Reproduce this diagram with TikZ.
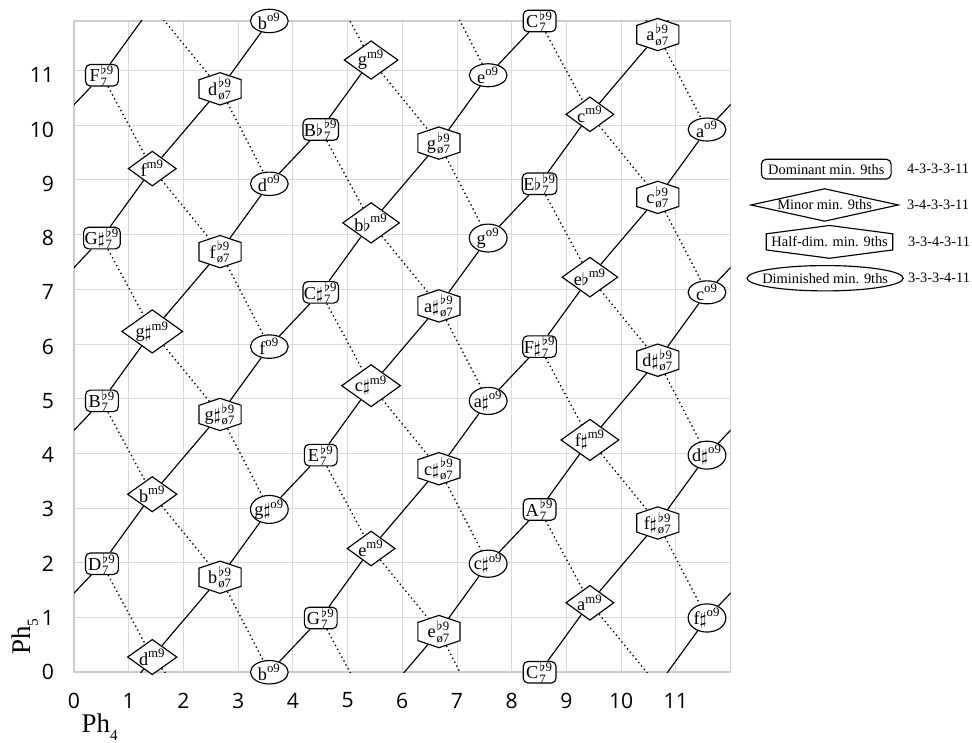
\documentclass[tikz,border=0pt]{standalone}
\usepackage{amsmath}
\usepackage{fontspec}
\setmainfont{Liberation Serif}
\newfontfamily\ticksans{Open Sans}
\usetikzlibrary{shapes.geometric,shapes.symbols,backgrounds}
\definecolor{gridgray}{RGB}{218,218,218}
\definecolor{framegray}{RGB}{205,205,205}

\newcommand{\shp}{$\sharp$}
\newcommand{\flt}{$\flat$}
\newcommand{\domch}[1]{$\text{#1}\mkern1mu^{\flat\text{9}}_{\text{7}}$}
\newcommand{\minch}[1]{$\text{#1}^{\text{m9}}$}
\newcommand{\hdch}[1]{$\text{#1}\mkern1mu^{\flat\text{9}}_{\text{ø7}}$}
\newcommand{\dimch}[1]{$\text{#1}^{\text{o9}}$}
\newcommand{\phlbl}[1]{Ph\raisebox{-4pt}{\fontsize{8}{8}\selectfont #1}}

\tikzset{
  chordbase/.style={draw, fill=white, line width=0.6pt, font=\fontsize{9.5}{10}\selectfont},
  domnode/.style={chordbase, rounded corners=2.5pt, minimum width=6mm, minimum height=3.8mm, inner xsep=0.5pt, inner ysep=0pt},
  minnode/.style={chordbase, diamond, aspect=1.4, minimum width=8.8mm, minimum height=6.4mm, inner sep=0pt},
  hdimnode/.style={chordbase, signal, signal to=north and south, signal pointer angle=143,
                   minimum width=7.7mm, inner xsep=0pt, inner ysep=-1pt},
  dimnode/.style={chordbase, ellipse, minimum width=6.9mm, minimum height=4.2mm, inner xsep=-1pt, inner ysep=0pt},
  legfont/.style={font=\fontsize{7.5}{9}\selectfont},
  legdom/.style={legfont, draw, line width=0.6pt, rounded corners=2.5pt, inner xsep=3.5pt, inner ysep=2.5pt},
  legmin/.style={legfont, draw, line width=0.6pt, diamond, aspect=4.5, inner sep=-1.5pt,
                 minimum width=2.7cm, minimum height=6mm},
  leghd/.style={legfont, draw, line width=0.6pt, signal, signal to=north and south, signal pointer angle=165,
                inner xsep=2.7pt, inner ysep=1.5pt},
  legdim/.style={legfont, draw, line width=0.6pt, ellipse, inner xsep=-4pt, inner ysep=2pt},
  legcode/.style={legfont, anchor=west, inner sep=0pt},
  solidlink/.style={line width=0.6pt},
  dotlink/.style={line width=0.7pt, dash pattern=on 0.7pt off 1.6pt},
  gridline/.style={gridgray, line width=0.5pt},
  gridframe/.style={framegray, line width=1pt},
  ticklbl/.style={font=\ticksans\fontsize{11}{13}\selectfont, inner sep=0pt},
  axislbl/.style={font=\fontsize{14}{16}\selectfont, inner sep=0pt}
}

\begin{document}
\begin{tikzpicture}[x=1cm, y=0.992cm]
  \useasboundingbox (-1.353,-1.290) rectangle (16.414,12.387);

  % Dominant min. 9ths
  \node[domnode] (F)   at ( 0.51,11.00) {\domch{F}};
  \node[domnode] (Gs)  at ( 0.51, 8.00) {\domch{G\shp}};
  \node[domnode] (B)   at ( 0.51, 5.00) {\domch{B}};
  \node[domnode] (D)   at ( 0.51, 2.00) {\domch{D}};
  \node[domnode] (Bb)  at ( 4.51,10.00) {\domch{B\flt}};
  \node[domnode] (Cs)  at ( 4.51, 7.00) {\domch{C\shp}};
  \node[domnode] (E)   at ( 4.51, 4.00) {\domch{E}};
  \node[domnode] (G)   at ( 4.51, 1.00) {\domch{G}};
  \node[domnode] (Ct)  at ( 8.51,12.00) {\domch{C}};
  \node[domnode] (Eb)  at ( 8.51, 9.00) {\domch{E\flt}};
  \node[domnode] (Fs)  at ( 8.51, 6.00) {\domch{F\shp}};
  \node[domnode] (A)   at ( 8.51, 3.00) {\domch{A}};
  \node[domnode] (Cb)  at ( 8.51, 0.00) {\domch{C}};
  % Minor min. 9ths
  \node[minnode] (fm)  at ( 1.43, 9.28) {\minch{f}};
  \node[minnode] (gsm) at ( 1.43, 6.28) {\minch{g\shp}};
  \node[minnode] (bm)  at ( 1.43, 3.28) {\minch{b}};
  \node[minnode] (dm)  at ( 1.43, 0.28) {\minch{d}};
  \node[minnode] (gm)  at ( 5.43,11.28) {\minch{g}};
  \node[minnode] (bbm) at ( 5.43, 8.28) {\minch{b\flt}};
  \node[minnode] (csm) at ( 5.43, 5.28) {\minch{c\shp}};
  \node[minnode] (em)  at ( 5.43, 2.28) {\minch{e}};
  \node[minnode] (cm)  at ( 9.43,10.28) {\minch{c}};
  \node[minnode] (ebm) at ( 9.43, 7.28) {\minch{e\flt}};
  \node[minnode] (fsm) at ( 9.43, 4.28) {\minch{f\shp}};
  \node[minnode] (am)  at ( 9.43, 1.28) {\minch{a}};
  % Half-dim. min. 9ths
  \node[hdimnode] (dh)  at ( 2.67,10.75) {\hdch{d}};
  \node[hdimnode] (fh)  at ( 2.67, 7.75) {\hdch{f}};
  \node[hdimnode] (gsh) at ( 2.67, 4.75) {\hdch{g\shp}};
  \node[hdimnode] (bh)  at ( 2.67, 1.75) {\hdch{b}};
  \node[hdimnode] (gh)  at ( 6.67, 9.75) {\hdch{g}};
  \node[hdimnode] (ash) at ( 6.67, 6.75) {\hdch{a\shp}};
  \node[hdimnode] (csh) at ( 6.67, 3.75) {\hdch{c\shp}};
  \node[hdimnode] (eh)  at ( 6.67, 0.75) {\hdch{e}};
  \node[hdimnode] (ah)  at (10.67,11.75) {\hdch{a}};
  \node[hdimnode] (ch)  at (10.67, 8.75) {\hdch{c}};
  \node[hdimnode] (dsh) at (10.67, 5.75) {\hdch{d\shp}};
  \node[hdimnode] (fsh) at (10.67, 2.75) {\hdch{f\shp}};
  % Diminished min. 9ths
  \node[dimnode] (bdt) at ( 3.57,12.00) {\dimch{b}};
  \node[dimnode] (dd)  at ( 3.57, 9.00) {\dimch{d}};
  \node[dimnode] (fd)  at ( 3.57, 6.00) {\dimch{f}};
  \node[dimnode] (gsd) at ( 3.57, 3.00) {\dimch{g\shp}};
  \node[dimnode] (bdb) at ( 3.57, 0.00) {\dimch{b}};
  \node[dimnode] (ed)  at ( 7.57,11.00) {\dimch{e}};
  \node[dimnode] (gd)  at ( 7.57, 8.00) {\dimch{g}};
  \node[dimnode] (asd) at ( 7.57, 5.00) {\dimch{a\shp}};
  \node[dimnode] (csd) at ( 7.57, 2.00) {\dimch{c\shp}};
  \node[dimnode] (ad)  at (11.57,10.00) {\dimch{a}};
  \node[dimnode] (cd)  at (11.57, 7.00) {\dimch{c}};
  \node[dimnode] (dsd) at (11.57, 4.00) {\dimch{d\shp}};
  \node[dimnode] (fsd) at (11.57, 1.00) {\dimch{f\shp}};

  % Copies across the torus edges
  \coordinate (Fr)   at (12.51,11.00);
  \coordinate (adl)  at (-0.43,10.00);
  \coordinate (dmt)  at ( 1.43,12.28);
  \coordinate (Fb)   at ( 0.51,-1.00);
  \coordinate (fsdt) at (11.57,13.00);
  \coordinate (ahb)  at (10.67,-0.25);
  \coordinate (Dr)   at (12.51, 2.00);
  \coordinate (fsdl) at (-0.43, 1.00);
  \coordinate (Br)   at (12.51, 5.00);
  \coordinate (dsdl) at (-0.43, 4.00);
  \coordinate (gmb)  at ( 5.43,-0.72);
  \coordinate (Gsr)  at (12.51, 8.00);
  \coordinate (cdl)  at (-0.43, 7.00);
  \coordinate (dhb)  at ( 2.67,-1.25);
  \coordinate (edb)  at ( 7.57,-1.00);
  \coordinate (eht)  at ( 6.67,12.75);
  \coordinate (Gt)   at ( 4.51,13.00);
  \coordinate (amt)  at ( 9.43,13.28);

  \begin{scope}[on background layer]
    % Grid
    \draw[gridline]  (0,0) grid (12,12);
    \draw[gridframe] (0,0) rectangle (12,12);
    \begin{scope}
      \clip (0,0) rectangle (12,12);
      % Common-tone chain
      \draw[solidlink] (Gs) -- (fm) -- (dh) -- (bdt);
      \draw[solidlink] (bdb) -- (G) -- (em) -- (csh) -- (asd) -- (Fs) -- (ebm) -- (ch) -- (ad) -- (Fr);
      \draw[solidlink] (adl) -- (F) -- (dmt);
      \draw[solidlink] (Fb) -- (dm) -- (bh) -- (gsd) -- (E) -- (csm) -- (ash) -- (gd) -- (Eb) -- (cm) -- (ah) -- (fsdt);
      \draw[solidlink] (ahb) -- (fsd) -- (Dr);
      \draw[solidlink] (fsdl) -- (D) -- (bm) -- (gsh) -- (fd) -- (Cs) -- (bbm) -- (gh) -- (ed) -- (Ct);
      \draw[solidlink] (Cb) -- (am) -- (fsh) -- (dsd) -- (Br);
      \draw[solidlink] (dsdl) -- (B) -- (gsm) -- (fh) -- (dd) -- (Bb) -- (gm);
      \draw[solidlink] (gmb) -- (eh) -- (csd) -- (A) -- (fsm) -- (dsh) -- (cd) -- (Gsr);
      \draw[solidlink] (cdl) -- (Gs);
      % Same root
      \draw[dotlink] (F) -- (fm) -- (fh) -- (fd);
      \draw[dotlink] (Gs) -- (gsm) -- (gsh) -- (gsd);
      \draw[dotlink] (B) -- (bm) -- (bh) -- (bdb);
      \draw[dotlink] (D) -- (dm) -- (dhb);
      \draw[dotlink] (dmt) -- (dh) -- (dd);
      \draw[dotlink] (Bb) -- (bbm) -- (ash) -- (asd);
      \draw[dotlink] (Cs) -- (csm) -- (csh) -- (csd);
      \draw[dotlink] (E) -- (em) -- (eh) -- (edb);
      \draw[dotlink] (eht) -- (ed);
      \draw[dotlink] (G) -- (gmb);
      \draw[dotlink] (Gt) -- (gm) -- (gh) -- (gd);
      \draw[dotlink] (Ct) -- (cm) -- (ch) -- (cd);
      \draw[dotlink] (Eb) -- (ebm) -- (dsh) -- (dsd);
      \draw[dotlink] (Fs) -- (fsm) -- (fsh) -- (fsd);
      \draw[dotlink] (A) -- (am) -- (ahb);
      \draw[dotlink] (amt) -- (ah) -- (ad);
    \end{scope}
  \end{scope}

  % Axes
  \foreach \i in {0,...,11} {
    \node[ticklbl] (xt\i) at (\i,-0.52) {\i};
    \node[ticklbl, anchor=east] (yt\i) at (-0.36,\i) {\i};
  }
  \node[axislbl] (ph4) at ( 0.47,-1.01) {\phlbl{4}};
  \node[axislbl, rotate=90] (ph5) at (-0.90, 0.66) {\phlbl{5}};

  % Legend
  \node[legdom] (legdom) at (13.75,9.27) {Dominant min. 9ths};
  \node[legmin] (legmin) at (13.72,8.61) {Minor min. 9ths};
  \node[leghd]  (leghd)  at (13.81,7.93) {Half-dim. min. 9ths};
  \node[legdim] (legdim) at (13.73,7.26) {Diminished min. 9ths};
  \node[legcode] (codedom) at (15.22,9.27) {4-3-3-3-11};
  \node[legcode] (codemin) at (15.22,8.61) {3-4-3-3-11};
  \node[legcode] (codehd)  at (15.24,7.93) {3-3-4-3-11};
  \node[legcode] (codedim) at (15.24,7.26) {3-3-3-4-11};
\end{tikzpicture}
\end{document}
